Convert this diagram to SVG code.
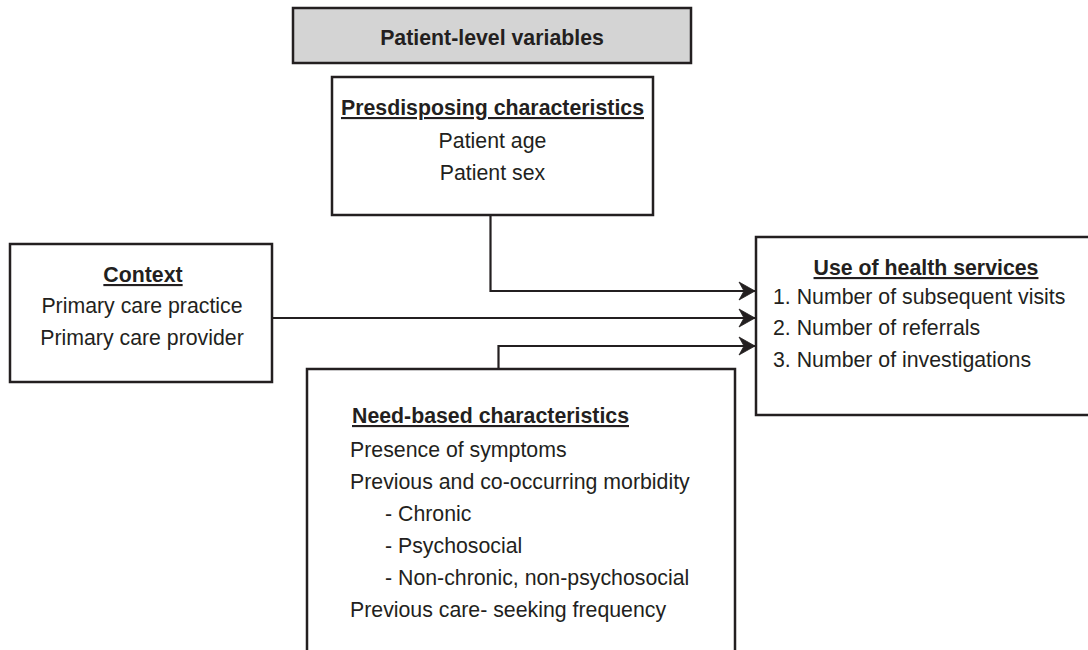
<svg xmlns="http://www.w3.org/2000/svg" width="1088" height="650" viewBox="0 0 1088 650">
<style>
  text { font-family: "Liberation Sans", Arial, sans-serif; font-size: 21.3px; fill: #231f20; }
  .b { font-weight: bold; }
  .u { font-weight: bold; text-decoration: underline; }
  .c { text-anchor: middle; }
  .box { fill: #ffffff; stroke: #231f20; stroke-width: 2.5; }
  .hdr { fill: #d4d4d4; stroke: #231f20; stroke-width: 2.5; }
  .conn { fill: none; stroke: #231f20; stroke-width: 2.2; }
</style>
<defs>
  <marker id="arrow" markerUnits="userSpaceOnUse" markerWidth="20" markerHeight="22" refX="16" refY="11" orient="auto" overflow="visible">
    <path d="M0,2 L16,11 L0,20 L5,11 Z" fill="#231f20" stroke="#231f20" stroke-width="0.8" stroke-linejoin="miter"/>
  </marker>
</defs>
<rect width="1088" height="650" fill="#ffffff"/>

<g id="header">
  <rect class="hdr" x="293" y="8" width="398" height="55"/>
  <text class="b c" x="492" y="45">Patient-level variables</text>
</g>

<g id="predisposing">
  <rect class="box" x="332" y="77" width="321" height="138"/>
  <text class="u c" x="492.5" y="115">Presdisposing characteristics</text>
  <text class="c" x="492.5" y="148">Patient age</text>
  <text class="c" x="492.5" y="180">Patient sex</text>
</g>

<g id="context">
  <rect class="box" x="10" y="244" width="262" height="138"/>
  <text class="u c" x="143" y="282">Context</text>
  <text class="c" x="142" y="313">Primary care practice</text>
  <text class="c" x="142" y="345">Primary care provider</text>
</g>

<g id="use">
  <rect class="box" x="756" y="237" width="345" height="178"/>
  <text class="u c" x="926" y="275">Use of health services</text>
  <text x="773" y="304">1. Number of subsequent visits</text>
  <text x="773" y="335">2. Number of referrals</text>
  <text x="773" y="367">3. Number of investigations</text>
</g>

<g id="need">
  <rect class="box" x="307" y="369" width="428" height="300"/>
  <text class="u" x="352" y="423">Need-based characteristics</text>
  <text x="350" y="457">Presence of symptoms</text>
  <text x="350" y="489">Previous and co-occurring morbidity</text>
  <text x="385" y="521">- Chronic</text>
  <text x="385" y="553">- Psychosocial</text>
  <text x="385" y="585">- Non-chronic, non-psychosocial</text>
  <text x="350" y="617">Previous care- seeking frequency</text>
</g>

<g id="connectors">
  <path class="conn" d="M490.5,215 V291 H755" marker-end="url(#arrow)"/>
  <path class="conn" d="M272,318 H755" marker-end="url(#arrow)"/>
  <path class="conn" d="M498.5,369 V346 H755" marker-end="url(#arrow)"/>
</g>
</svg>
